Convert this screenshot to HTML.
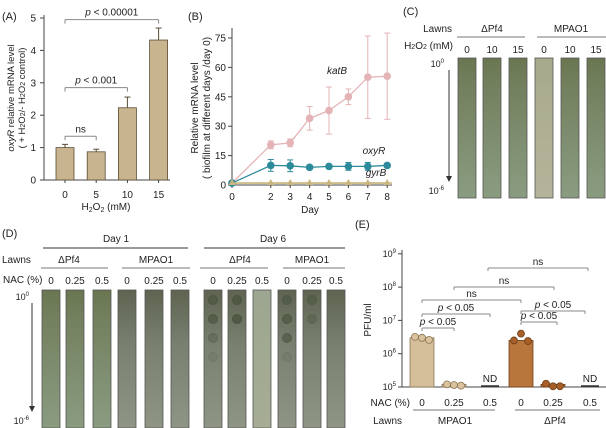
<!DOCTYPE html>
<html><head><meta charset="utf-8"><style>
html,body{margin:0;padding:0;background:#fff;}
svg{display:block;font-family:"Liberation Sans",sans-serif;}
text{fill:#222;}
</style></head><body>
<svg id="fig" width="606" height="428" viewBox="0 0 606 428">
<defs>
<linearGradient id="gStrip" x1="0" y1="0" x2="0" y2="1">
<stop offset="0" stop-color="#6a7650"/><stop offset="0.2" stop-color="#73805f"/><stop offset="1" stop-color="#8a9c80"/></linearGradient>
<linearGradient id="gStripL" x1="0" y1="0" x2="0" y2="1">
<stop offset="0" stop-color="#a7a98c"/><stop offset="1" stop-color="#b4b49a"/></linearGradient>
<linearGradient id="gStripD" x1="0" y1="0" x2="0" y2="1">
<stop offset="0" stop-color="#5e6450"/><stop offset="0.4" stop-color="#798070"/><stop offset="1" stop-color="#8e9584"/></linearGradient>
<linearGradient id="gStripP" x1="0" y1="0" x2="0" y2="1">
<stop offset="0" stop-color="#9ca690"/><stop offset="1" stop-color="#a6ad94"/></linearGradient>
</defs>
<g id="A"></g>
<g id="B"></g>
<g id="C"></g>
<g id="D"></g>
<g id="E"></g>
</svg>
<script>
// Panel A data
const aCats = ["0","5","10","15"];
const aVals = [1.0, 0.87, 2.23, 4.32];
const aErr = [0.1, 0.08, 0.33, 0.37];
const aTicks = [0,1,2,3,4,5];
// Panel B data
const bDays = [0,2,3,4,5,6,7,8];
const bKatB = [1, 20.5, 21.5, 34, 38, 45, 55, 55.5];
const bKatBErr = [0.5, 2, 2, 6, 12, 4, 21, 22];
const bOxyR = [1, 10, 9.8, 9, 9.5, 9.5, 9.5, 10];
const bOxyRErr = [0.5, 3, 3, 1, 1, 2, 2, 1];
const bGyrB = [1, 1, 1, 1, 1, 1, 1, 1];
const bTicks = [0,15,30,45,60,75];
const bXTicks = [0,2,3,4,5,6,7,8];
// Panel E data
const eCats = ["0","0.25","0.5","0","0.25","0.5"];
const eBars = [3.0e6, 1.2e5, null, 2.5e6, 1.2e5, null];
const ePoints = [[3.2e6,3.0e6,2.6e6],[1.2e5,1.15e5,1.1e5],[],[2.5e6,4.0e6,2.4e6],[1.25e5,1.05e5,1.05e5],[]];
const eTicks = [5,6,7,8,9];

const NS="http://www.w3.org/2000/svg";
function mk(parent,tag,attrs,txt){const e=document.createElementNS(NS,tag);for(const k in attrs)e.setAttribute(k,attrs[k]);if(txt!==undefined)e.textContent=txt;parent.appendChild(e);return e;}
function T(p,x,y,s,size,anchor,extra){const e=mk(p,"text",Object.assign({x:x,y:y,"font-size":size||10,"text-anchor":anchor||"middle"},extra||{}));e.innerHTML=s;return e;}
const L=(p,x1,y1,x2,y2,c,w)=>mk(p,"line",{x1,y1,x2,y2,stroke:c||"#333","stroke-width":w||1});

// ---------- Panel A ----------
(function(){
const g=document.getElementById('A');
const y=v=>180-v*(162/5);
const x=i=>65+i*31.2;
let t=T(g,2,20,"(A)",11,"start");

L(g,44,15,44,180,"#444");
L(g,44,180,170,180,"#444");
aTicks.forEach(v=>{L(g,40,y(v),44,y(v),"#444");const tt=T(g,36,y(v)+3.5,v,10,"end");
});
aCats.forEach((c,i)=>{
 const r=mk(g,"rect",{x:x(i)-9,y:y(aVals[i]),width:18,height:180-y(aVals[i]),fill:"#c8b48f",stroke:"#5a4c35","stroke-width":0.8});
 
 L(g,x(i),y(aVals[i]),x(i),y(aVals[i]+aErr[i]),"#5a4c35");
 L(g,x(i)-3,y(aVals[i]+aErr[i]),x(i)+3,y(aVals[i]+aErr[i]),"#5a4c35");
 L(g,x(i),180,x(i),183,"#444");
 const tl=T(g,x(i),198,c,10);
});
const xt=T(g,106,210,"H<tspan font-size='7' dy='2'>2</tspan><tspan dy='-2'>O</tspan><tspan font-size='7' dy='2'>2</tspan><tspan dy='-2'> (mM)</tspan>",10);

const yt=T(g,0,0,"<tspan font-style='italic'>oxyR</tspan> relative mRNA level",9.5,"middle",{transform:"translate(14,98) rotate(-90)"});

const yt2=T(g,0,0,"( + H<tspan font-size='7'>2</tspan>O<tspan font-size='7'>2</tspan>/- H<tspan font-size='7'>2</tspan>O<tspan font-size='7'>2</tspan> control)",9.5,"middle",{transform:"translate(25,98) rotate(-90)"});

function br(i,j,yy,label){const c="#888";L(g,x(i),yy+4,x(i),yy,c);L(g,x(i),yy,x(j),yy,c);L(g,x(j),yy,x(j),yy+4,c);
 const tt=T(g,(x(i)+x(j))/2,yy-4,label,10);}
br(0,1,y(1.35),"ns");
br(0,2,y(2.85),"<tspan font-style='italic'>p</tspan> &lt; 0.001");
br(0,3,y(4.95),"<tspan font-style='italic'>p</tspan> &lt; 0.00001");
})();

// ---------- Panel B ----------
(function(){
const g=document.getElementById('B');
const y=v=>185-v*(147/75);
const x=d=>232+d*19.4;
const t=T(g,188,20,"(B)",11,"start");
L(g,232,28,232,185,"#444");L(g,232,185,392,185,"#444");
bTicks.forEach(v=>{L(g,228,y(v),232,y(v),"#444");const tt=T(g,226,y(v)+3.5,v,10,"end");});
bXTicks.forEach(d=>{L(g,x(d),185,x(d),188,"#444");const tt=T(g,x(d),200,d,10);});
const xt=T(g,310,213,"Day",10);
const y1=T(g,0,0,"Relative mRNA level",10,"middle",{transform:"translate(198,108) rotate(-90)"});
const y2=T(g,0,0,"( biofilm at different days /day 0)",10,"middle",{transform:"translate(210,108) rotate(-90)"});
function series(vals,err,color,name,shape){
 const pts=vals.map((v,i)=>x(bDays[i])+","+y(v)).join(" ");
 const pl=mk(g,"polyline",{points:pts,fill:"none",stroke:color,"stroke-width":1.3});
 vals.forEach((v,i)=>{const cx=x(bDays[i]),cy=y(v);
  if(err){L(g,cx,y(v-err[i]),cx,y(v+err[i]),color);L(g,cx-3,y(v-err[i]),cx+3,y(v-err[i]),color);L(g,cx-3,y(v+err[i]),cx+3,y(v+err[i]),color);}
  let m;
  if(shape==="tri"){m=mk(g,"path",{d:`M${cx},${cy-4}L${cx+3.5},${cy+2}L${cx-3.5},${cy+2}Z`,fill:color});}
  else m=mk(g,"circle",{cx,cy,r:3.8,fill:color});
  });
}
series(bKatB,bKatBErr,"#e4b3b6","katb");
series(bOxyR,bOxyRErr,"#2d8a9a","oxyr");
L(g,232,y(1),392,y(1),"#c9b67e",1.5);
series(bGyrB,null,"#c9b67e","gyrb","tri");
[["katB",337,74],["oxyR",374,154],["gyrB",376,176]].forEach(a=>{const tt=T(g,a[1],a[2],a[0],10,"middle",{"font-style":"italic"});});
})();

// ---------- Strip helper ----------
function strip(g,x,y0,y1,grad,name,spots){
 const r=mk(g,"rect",{x,y:y0,width:18,height:y1-y0,fill:"url(#"+grad+")",stroke:"#555","stroke-width":0.8});
 
 (spots||[]).forEach(s=>{const c=mk(g,"circle",{cx:x+9,cy:s[0],r:4.5,fill:"#4f5944","fill-opacity":s[1],stroke:"#4a5340","stroke-opacity":s[1]});});
}

// ---------- Panel C ----------
(function(){
const g=document.getElementById('C');
const t=T(g,403,15,"(C)",11,"start");
const tl=T(g,452,32,"Lawns",10,"end");
const th=T(g,453,49,"H<tspan font-size='7'>2</tspan>O<tspan font-size='7'>2</tspan> (mM)",10,"end");
const xs=[458,483,509,535,561,587];const lab=["0","10","15","0","10","15"];
const a1=T(g,492,32,"ΔPf4",10);
const a2=T(g,571,32,"MPAO1",10);
L(g,457,37,525,37,"#777");L(g,537,37,606,37,"#777");
xs.forEach((xx,i)=>{const n=T(g,xx+9,53,lab[i],10);
 strip(g,xx,58,198,i===3?"gStripL":"gStrip","c-plaque-strip");});
T(g,444,67,"10<tspan font-size='6' dy='-4'>0</tspan>",9,"end");
T(g,444,194,"10<tspan font-size='6' dy='-4'>-6</tspan>",9,"end");
L(g,449,70,449,178,"#333");mk(g,"path",{d:"M446,176L452,176L449,182Z",fill:"#333"});
})();

// ---------- Panel D ----------
(function(){
const g=document.getElementById('D');
const t=T(g,2,237,"(D)",11,"start");
const d1=T(g,116,242,"Day 1",10);
const d6=T(g,273,242,"Day 6",10);
L(g,43,248,188,248,"#333");L(g,204,248,345,248,"#333");
const lw=T(g,2,263,"Lawns",10,"start");
[["ΔPf4",69,41,108],["MPAO1",156,122,190],["ΔPf4",240,200,268],["MPAO1",312,283,345]].forEach(h=>{const tt=T(g,h[1],263,h[0],10);L(g,h[2],268,h[3],268,"#777");});
const nl=T(g,3,283,"NAC (%)",10,"start");
const xs=[42,66,93,118,145,171,204,228,253,278,303,327];const lab=["0","0.25","0.5"];
const spots={6:[[300,.8],[319,.8],[338,.4],[357,.15]],7:[[300,1],[319,1]],9:[[300,.7],[319,.8],[338,.7],[357,.15]],10:[[300,.6],[319,.4]]};
xs.forEach((xx,i)=>{const n=T(g,xx+9,284,lab[i%3],10);
 let grad = i<3?"gStrip": (i<6?"gStripD":(i===8?"gStripP":"gStripD"));
 strip(g,xx,290,428,grad,"d-plaque-strip",spots[i]);});
T(g,29,300,"10<tspan font-size='6' dy='-4'>0</tspan>",9,"end");
T(g,29,424,"10<tspan font-size='6' dy='-4'>-6</tspan>",9,"end");
L(g,32,303,32,408,"#333");mk(g,"path",{d:"M29,406L35,406L32,412Z",fill:"#333"});
})();

// ---------- Panel E ----------
(function(){
const g=document.getElementById('E');
const y=v=>387-(Math.log10(v)-5)*33.3;
const yl=l=>387-(l-5)*33.3;
const xs=[422,454,490,521,553,590];
const t=T(g,355,228,"(E)",11,"start");
L(g,402,250,402,387,"#444");L(g,402,387,606,387,"#444");
eTicks.forEach(l=>{L(g,398,yl(l),402,yl(l),"#444");const tt=T(g,396,yl(l)+3,"10<tspan font-size='6' dy='-4'>"+l+"</tspan>",9,"end");});
const yt=T(g,0,0,"PFU/ml",10,"middle",{transform:"translate(371,320) rotate(-90)"});
eCats.forEach((c,i)=>{
 const fill=i<3?"#d5bf9b":"#b8763c", dark=i<3?"#8a7656":"#6e421c", pt=i<3?"#d9c29c":"#a85e28";
 if(eBars[i]!==null){const r=mk(g,"rect",{x:xs[i]-12,y:y(eBars[i]),width:24,height:387-y(eBars[i]),fill:fill,stroke:dark,"stroke-width":0.8});
  }
 else{L(g,xs[i]-9,386,xs[i]+9,386,"#333",1.5);const nd=T(g,xs[i],382,"ND",10);}
 ePoints[i].forEach((v,k)=>{const c=mk(g,"circle",{cx:xs[i]-7+k*7,cy:y(v),r:3.5,fill:pt,stroke:dark,"stroke-width":0.8});});
 const tl=T(g,xs[i],406,c,10);
});
const nl=T(g,410,406,"NAC (%)",10,"end");
const lw=T(g,402,424,"Lawns",10,"end");
L(g,413,410,495,410,"#777");L(g,515,410,600,410,"#777");
const m1=T(g,455,424,"MPAO1",10);
const m2=T(g,555,424,"ΔPf4",10);
function br(x1,x2,yy,label){const c="#888";L(g,x1,yy+3,x1,yy,c);L(g,x1,yy,x2,yy,c);L(g,x2,yy,x2,yy+3,c);
 const tt=T(g,(x1+x2)/2,yy-3,label,10);}
const P="<tspan font-style='italic'>p</tspan> &lt; 0.05";
br(488,588,268,"ns");
br(454,554,287,"ns");
br(422,521,300,"ns");
br(422,490,314,P);
br(422,454,328,P);
br(521,585,311,P);
br(521,557,322,P);
})();
</script>
</body></html>
